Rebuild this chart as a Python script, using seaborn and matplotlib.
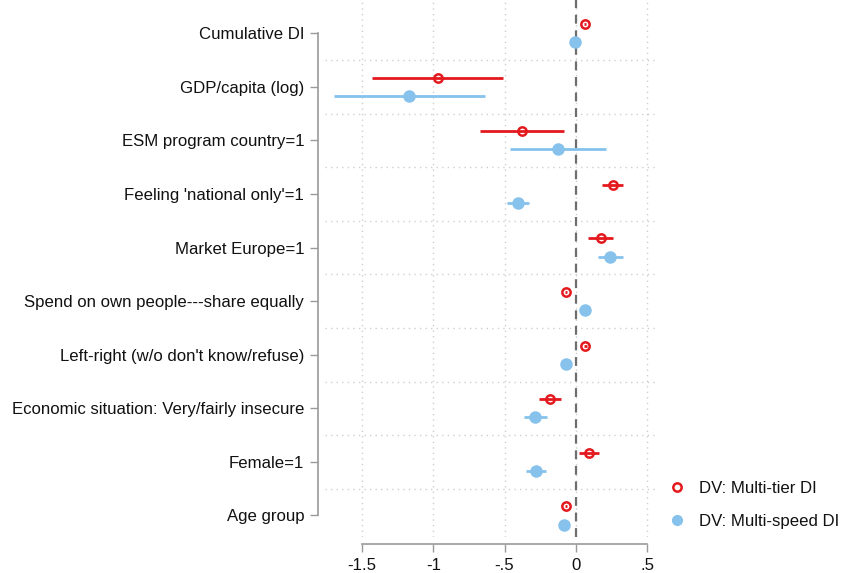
import numpy as np
import matplotlib
matplotlib.use("Agg")
import matplotlib.pyplot as plt
from matplotlib.lines import Line2D
import seaborn as sns

# coefficient labels, top to bottom
labels = [
    "Cumulative DI",
    "GDP/capita (log)",
    "ESM program country=1",
    "Feeling 'national only'=1",
    "Market Europe=1",
    "Spend on own people---share equally",
    "Left-right (w/o don't know/refuse)",
    "Economic situation: Very/fairly insecure",
    "Female=1",
    "Age group",
]

# DV: Multi-tier DI
tier_coef = [0.065, -0.97, -0.376, 0.26, 0.175, -0.068, 0.068, -0.182, 0.096, -0.068]
tier_lo = [0.055, -1.43, -0.67, 0.184, 0.089, -0.078, 0.058, -0.26, 0.023, -0.078]
tier_hi = [0.075, -0.51, -0.084, 0.332, 0.264, -0.058, 0.078, -0.107, 0.161, -0.058]

# DV: Multi-speed DI
speed_coef = [-0.007, -1.168, -0.124, -0.406, 0.243, 0.068, -0.068, -0.283, -0.278, -0.082]
speed_lo = [-0.017, -1.70, -0.46, -0.48, 0.156, 0.058, -0.078, -0.36, -0.346, -0.092]
speed_hi = [0.003, -0.636, 0.21, -0.33, 0.332, 0.078, -0.058, -0.205, -0.212, -0.072]

series_names = ["DV: Multi-tier DI", "DV: Multi-speed DI"]

xticks = [-1.5, -1, -0.5, 0, 0.5]
xticklabels = ["-1.5", "-1", "-.5", "0", ".5"]

red = "#e3191e"
blue = "#86c2ec"
txt = "#111111"
fs = 12.1

sns.set_theme(style="white")
plt.rcParams["font.family"] = ["Liberation Sans", "DejaVu Sans"]

fig = plt.figure(figsize=(8.43, 5.73), dpi=100)
ax = fig.add_axes([0.3855, 0.063, 0.3935, 0.937])

ypos = np.arange(len(labels))
off = 0.17

# vertical grid at ticks, horizontal grid between categories
for xv in xticks:
    ax.axvline(xv, color="#cfcfcf", lw=1, ls=(0, (1, 3)), zorder=0)
for yv in ypos[:-1] + 0.5:
    ax.axhline(yv, color="#cfcfcf", lw=1, ls=(0, (1, 3)), zorder=0)
ax.axvline(0, color="#6e6e6e", lw=1.6, ls=(0, (4, 3)), zorder=1)

tc = np.array(tier_coef)
ax.errorbar(tc, ypos - off, xerr=[tc - np.array(tier_lo), np.array(tier_hi) - tc],
            fmt="o", color=red, ecolor=red, elinewidth=2, capsize=0,
            markersize=6, markerfacecolor="none", markeredgecolor=red,
            markeredgewidth=1.8, zorder=3)
sc = np.array(speed_coef)
ax.errorbar(sc, ypos + off, xerr=[sc - np.array(speed_lo), np.array(speed_hi) - sc],
            fmt="o", color=blue, ecolor=blue, elinewidth=2, capsize=0,
            markersize=8, markerfacecolor=blue, markeredgecolor=blue,
            zorder=3)

ax.set_xlim(-1.76, 0.568)
ax.set_ylim(9.4, -0.62)
ax.set_yticks(ypos)
ax.set_yticklabels(labels)
ax.set_xticks(xticks)
ax.set_xticklabels(xticklabels)

sns.despine(ax=ax, offset=5, trim=True)
for side in ["left", "bottom"]:
    ax.spines[side].set_color("#9a9a9a")
    ax.spines[side].set_linewidth(1.2)
ax.tick_params(axis="both", length=6, width=1, color="#9a9a9a", pad=4,
               left=True, bottom=True, labelsize=fs, labelcolor=txt)

handles = [
    Line2D([], [], ls="none", marker="o", markersize=6, markerfacecolor="none",
           markeredgecolor=red, markeredgewidth=1.8),
    Line2D([], [], ls="none", marker="o", markersize=7, markerfacecolor=blue,
           markeredgecolor=blue),
]
leg = ax.legend(handles, series_names, loc="center left",
                bbox_to_anchor=(0.99, 0.06), frameon=False, fontsize=fs,
                handlelength=1.0, handletextpad=0.8, labelspacing=1.05,
                borderaxespad=0.5)
for t in leg.get_texts():
    t.set_color(txt)

fig.savefig("out.png", dpi=100)
